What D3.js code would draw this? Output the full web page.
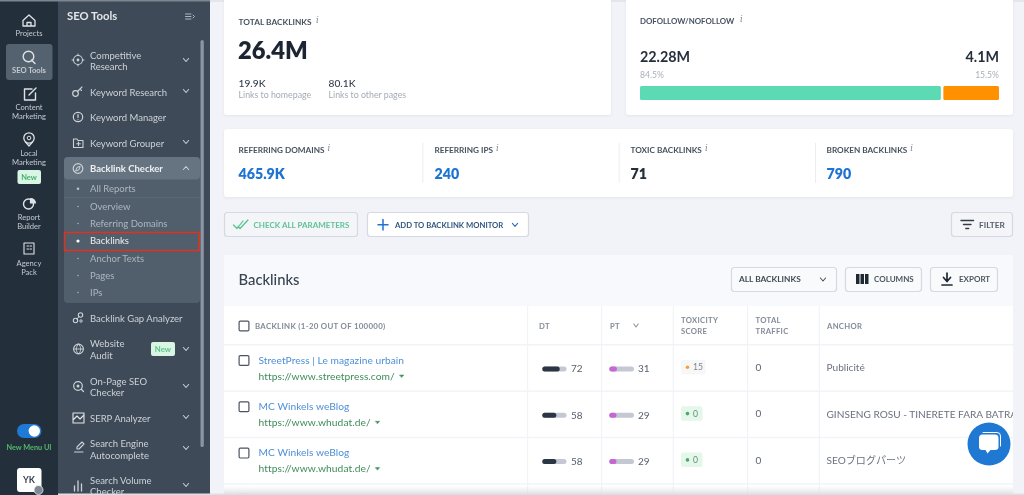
<!DOCTYPE html>
<html><head><meta charset="utf-8">
<script src="https://cdn.jsdelivr.net/npm/d3@7"></script>
<style>html,body{margin:0;padding:0;background:#f1f3f8;overflow:hidden}svg{display:block;filter:blur(.3px)}
text{font-family:Lato,"Noto Sans CJK JP",sans-serif}</style></head><body>
<svg id="c" width="1024" height="495" viewBox="0 0 1024 495"></svg>
<script>
const railLabels = [["Projects"],["SEO Tools"],["Content","Marketing"],["Local","Marketing"],["Report","Builder"],["Agency","Pack"]];
const toolItems = [["Competitive","Research"],["Keyword Research"],["Keyword Manager"],["Keyword Grouper"],["Backlink Checker"],["Backlink Gap Analyzer"],["Website","Audit"],["On-Page SEO","Checker"],["SERP Analyzer"],["Search Engine","Autocomplete"],["Search Volume","Checker"]];
const subItems = ["All Reports","Overview","Referring Domains","Backlinks","Anchor Texts","Pages","IPs"];
const followLabels = ["22.28M","4.1M"];
const followPct = [84.5,15.5];
const statLabels = ["REFERRING DOMAINS","REFERRING IPS","TOXIC BACKLINKS","BROKEN BACKLINKS"];
const statValues = ["465.9K","240","71","790"];
const columnHeads = [["BACKLINK (1-20 OUT OF 100000)"],["DT"],["PT"],["TOXICITY","SCORE"],["TOTAL","TRAFFIC"],["ANCHOR"]];
const rowTitles = ["StreetPress | Le magazine urbain","MC Winkels weBlog","MC Winkels weBlog"];
const rowUrls = ["https://www.streetpress.com/","https://www.whudat.de/","https://www.whudat.de/"];
const dtValues = [72,58,58];
const ptValues = [31,29,29];
const toxicity = [15,0,0];
const traffic = [0,0,0];
const anchors = ["Publicité","GINSENG ROSU - TINERETE FARA BATRANETE","SEOブログパーツ"];

const svg = d3.select("#c");
const defs = svg.append("defs");
defs.append("clipPath").attr("id","tbl").append("rect").attr("x",224).attr("y",250).attr("width",789).attr("height",245);
const sh = defs.append("filter").attr("id","sh").attr("x","-10%").attr("y","-20%").attr("width","120%").attr("height","140%");
sh.append("feDropShadow").attr("dx",0).attr("dy",1).attr("stdDeviation",1.5).attr("flood-color","#c5cbd6").attr("flood-opacity",.35);
const grad = defs.append("linearGradient").attr("id","fade").attr("x1",0).attr("x2",0).attr("y1",0).attr("y2",1);
grad.append("stop").attr("offset",0).attr("stop-color","#d9dce2").attr("stop-opacity",0);
grad.append("stop").attr("offset",1).attr("stop-color","#d9dce2").attr("stop-opacity",.9);

function R(x,y,w,h,fill,rx,stroke,g){const r=(g||svg).append("rect").attr("x",x).attr("y",y).attr("width",w).attr("height",h).attr("fill",fill).attr("rx",rx||0);if(stroke)r.attr("stroke",stroke).attr("stroke-width",1);return r;}
function T(x,y,s,size,fill,o){o=o||{};const t=(o.g||svg).append("text").attr("x",x).attr("y",y).attr("dy","0.35em").attr("font-size",size).attr("fill",fill).attr("font-weight",o.w||400).attr("text-anchor",o.a||"start").text(s);if(o.ls)t.attr("letter-spacing",o.ls);if(o.f)t.style("font-family",o.f);return t;}
function P(d,stroke,sw,fill){return svg.append("path").attr("d",d).attr("fill",fill||"none").attr("stroke",stroke||"none").attr("stroke-width",sw||1.2).attr("stroke-linecap","round").attr("stroke-linejoin","round");}
function C(x,y,r,fill,stroke,sw){return svg.append("circle").attr("cx",x).attr("cy",y).attr("r",r).attr("fill",fill||"none").attr("stroke",stroke||"none").attr("stroke-width",sw||1.2);}
function chev(x,y,c,up,s){s=s||3;P(up?`M${x-s},${y+1.5}L${x},${y-1.5}L${x+s},${y+1.5}`:`M${x-s},${y-1.5}L${x},${y+1.5}L${x+s},${y-1.5}`,c,1.1);}
function info(x,y){T(x,y,"i",8.5,"#7f8895",{f:"'DejaVu Serif',serif"}).attr("font-style","italic");}

/* page */
R(0,0,1024,495,"#f1f3f8");
R(0,0,1024,2,"#e4e6ea");

/* rail */
R(0,0,58,495,"#232f3b");
R(0,0,58,1.5,"#7c8590");
R(6,44,46.5,36,"#54626f",3);
const railC="#dfe3e7";
const railY=[[33],[70],[107,116],[153,162],[217,226],[263,272]];
railLabels.forEach((l,i)=>l.forEach((s,j)=>T(29,railY[i][j],s,7.6,"#c3cad1",{a:"middle",w:i==1?700:400})));
P("M23,20.5L29,15L35,20.5V26H23ZM27,26V22.5H31V26",railC,1.3);
C(28.5,56.5,5.3,"none",railC,1.4);P("M31.5,60L35,63.5",railC,1.4);
P("M32,89H24.5V100H35.5V93M29,95L36,88",railC,1.4);
C(29,138,5.2,"none",railC,1.3);C(29,138,1.8,"none",railC,1);P("M25.5,142L29,146L32.5,142",railC,1.2);
R(17.5,170,23.5,14,"#d9f5e3",2);T(29,177.3,"New",7.5,"#46b070",{a:"middle",w:700});
C(28.5,204,5,"none",railC,1.4);P("M30.5,198.5A5,5,0,0,1,35.5,203H30.5Z",railC,1.2,railC);
P("M24,254V243H34V254ZM27,246H28.5M30,246H31.5M27,249H28.5M30,249H31.5",railC,1.1);
R(17,424,24.5,14,"#1f7ad6",7);C(34.3,431,5.7,"#fff");
T(29,447,"New Menu UI",7.3,"#52b96b",{a:"middle",w:700});
R(17,468,24.5,24,"#fff",3);T(29,480,"YK",9,"#3a4452",{a:"middle",w:700});
C(38.5,490,4.5,"#7d8894","#fff",.7);

/* sidebar */
R(58,0,152,495,"#3e4a57");
R(58,0,152,1.5,"#7c8590");
T(67,16.5,"SEO Tools",11.3,"#e3e6ea",{w:700});
P("M185.5,14H191M185.5,16.5H191M185.5,19H191M193,15L194.5,16.5L193,18","#aeb6bf",1);
R(64,157,136,146,"#515e6b",4);
R(64,157,136,22.5,"#667380",4);
R(64,197,136,.7,"#5f6b78");
R(200.5,40,3.3,407,"#8b96a2",1.6);
const sc="#ccd2d8";
const toolY=[[55,66],[92],[117],[143],[168.7],[318],[343,355],[381,392],[418],[443,455],[480,491]];
const toolChev=[60,91,null,142,168,null,349,386,417,448,485];
toolItems.forEach((l,i)=>{l.forEach((s,j)=>T(90,toolY[i][j]+.3,s,9.5,i==4?"#eef0f2":"#ccd2d8",{w:i==4?700:400}));
 if(toolChev[i])chev(186,toolChev[i],"#c8ced5",i==4,2.6);});
const subY=[188.7,206.5,223.5,241,258.5,275.5,292.5];
subItems.forEach((s,i)=>{T(90,subY[i],s,9.5,i==3?"#eef0f2":"#aeb7c0");C(78,subY[i],i==3?1.6:(i==0?1.3:.7),i==3?"#fff":"#b9c1c9");});
R(64.5,232.5,134.5,18,"none",0).attr("stroke","#e2321e").attr("stroke-width",1.5);
/* sidebar icons */
C(78,60,4.5,"none",sc,1.1);C(78,60,1.4,sc);P("M78,54V55.5M78,64.5V66M72,60H73.5M82.5,60H84",sc,1);
C(75.5,93.5,2.8,"none",sc,1.2);P("M77.5,91.5L82,87M80,89L81.5,90.5",sc,1.1);
C(78,117,4.7,"none",sc,1.2);P("M78,114.5V117.5M78,119.5V119.6",sc,1.2);
P("M73.5,139H77L78,140.5H83V147.5H73.5ZM78.5,142V145.5M76.7,143.7H80.3",sc,1.1);
C(78,168.5,4.8,"none",sc,1.2);P("M75.8,170.7L77,167.5L80.2,166.3L79,169.5Z",sc,1);
C(75.5,320.5,2.2,"none",sc,1.1);C(80.5,315,2.2,"none",sc,1.1);C(81,321,1.2,"none",sc,1);P("M77,319L79,316.5",sc,1);
C(78.5,349,4.9,"none",sc,1.1);P("M73.6,349H83.4M78.5,344C75.5,347,75.5,351,78.5,354C81.5,351,81.5,347,78.5,344",sc,.9);
C(78,386,4.3,"none",sc,1.2);C(78,386,1.5,sc);P("M81.5,389.5L83.5,391.5",sc,1.2);
P("M73,423V413H84V423ZM73,420L77,416L80,419L84,415","#e3e6ea",1.1);
P("M77,447L82,442L84,444L79,449H77ZM74.5,452H83",sc,1.1);
P("M74.5,491V486M78,491V481M81.5,491V484",sc,1.3);
R(151,342,24,14,"#d9f5e3",2);T(163,349.5,"New",7.8,"#5cc58a",{a:"middle",w:700});

/* cards */
const card=(x,y,w,h)=>R(x,y,w,h,"#fff",3).attr("filter","url(#sh)");
card(224,-4,387,119);card(626,-4,387,119);card(224,129,789,68);

const lab="#47525f";
T(238.5,22,"TOTAL BACKLINKS",8.3,lab,{w:700});info(316,20);
T(238,51,"26.4M",23.7,"#1c2531",{w:800});
T(238.5,83,"19.9K",10.2,"#333d4a",{w:500});T(238.5,95,"Links to homepage",8.8,"#a3abb5");
T(328.5,83,"80.1K",10.2,"#333d4a",{w:500});T(328.5,95,"Links to other pages",8.8,"#a3abb5");

T(640,21,"DOFOLLOW/NOFOLLOW",7.85,lab,{w:700});info(740,19.5);
const fx=d3.scaleLinear().domain([0,100]).range([640,999]);
T(640,57,followLabels[0],14.3,"#252e3b",{w:700});
T(999,57,followLabels[1],14.3,"#252e3b",{w:700,a:"end"});
T(640,75,followPct[0]+"%",8.6,"#a9b0ba");T(999,75,followPct[1]+"%",8.6,"#a9b0ba",{a:"end"});
svg.selectAll(".fbar").data(followPct).join("rect").attr("class","fbar")
 .attr("x",(d,i)=>fx(i?followPct[0]:0)).attr("y",86).attr("height",14).attr("rx",1.5)
 .attr("width",(d,i)=>fx(d)-fx(0)-(i?0:2.5)).attr("fill",(d,i)=>i?"#ff9100":"#5cdab4");

const statX=[238.5,434.5,630.5,826.5];
statLabels.forEach((s,i)=>{const t=T(statX[i],150.5,s,8.2,lab,{w:700});
 info(statX[i]+t.node().getComputedTextLength()+3,148.5);
 T(statX[i],174,statValues[i],14.2,i==2?"#252e3b":"#1f73d2",{w:800});});
[422.5,618.7,815].forEach(x=>R(x,143,.8,40,"#e7e9ee"));

/* buttons */
const btn=(x,y,w,h,fill)=>R(x+.5,y+.5,w-1,h-1,fill||"#fff",3,"#d5d9e0").attr("stroke-width",1.2);
btn(224,212,134,25,"#f3f5f8");
P("M233.5,225L237,228.5L243,221M238,226.5L240,228.5L248,220","#55c08b",1.2);
T(253.5,225,"CHECK ALL PARAMETERS",8,"#62c196",{w:700});
btn(367,212,162,25);
P("M383,219.5V230M378,224.8H388","#1f73d2",1.5);
T(395,225,"ADD TO BACKLINK MONITOR",7.7,"#31557f",{w:700});chev(515,224.8,"#2f6cb5",false,2.6);
btn(951,212,62,25,"#f3f5f8");
P("M961,220.5H973.5M963.5,224.5H971M965.8,228.5H968.7","#333d4a",1.4);
T(979,225,"FILTER",8.3,"#555f6c",{w:700});

/* table */
R(224,255,789,240,"#fff");
R(224,255,789,51,"#f8f9fc");
T(238.5,279.5,"Backlinks",14.8,"#3a4452",{w:500});
btn(731,267,106,25,"#f9fafc");T(739,279.5,"ALL BACKLINKS",8.3,"#3f4956",{w:700});chev(823,279.5,"#4a5462",false,2.6);
btn(845,267,77,25,"#f9fafc");R(856,274,3.5,10,"#1f2833");R(860.5,274,3.5,10,"#1f2833");R(865,274,3.5,10,"#1f2833");T(874,279.5,"COLUMNS",8,"#4c5663",{w:700});
btn(930,267,68,25,"#f9fafc");P("M947,273V281M943.5,277.5L947,281.5L950.5,277.5M942,285H952","#1f2833",1.7);T(959,279.5,"EXPORT",8,"#4c5663",{w:700});

const tbl=svg.append("g").attr("clip-path","url(#tbl)");
const colX=[527,601,672.7,747,818.7];
colX.forEach(x=>R(x,306,1.2,189,"#f1f3f7",0,null,tbl));
const rowLine=d3.scaleLinear().domain([0,1]).range([344.5,390.9]);
[0,1,2,3].forEach(i=>R(224,rowLine(i)-.5,789,1.4,"#f1f3f7",0,null,tbl));

const headX=[255,539,610,681,755.5,827];
const hc="#828b97";
columnHeads.forEach((l,i)=>l.forEach((s,j)=>T(headX[i],l.length>1?320+j*11:326,s,i==0?7.85:7.7,hc,{w:700,ls:.3})));
chev(636,325.5,"#8a93a0",false,2.2);
const box=(x,y)=>R(x+.6,y+.6,9.8,9.8,"#fff",1.2,"#4a5361").attr("stroke-width",1.2);
box(238.5,320.5);

const ry=d3.scaleLinear().domain([0,1]).range([360,406.3]);
const dtX=d3.scaleLinear().domain([0,100]).range([542.3,566.5]);
const ptX=d3.scaleLinear().domain([0,100]).range([609.3,634]);
const rows=d3.range(rowTitles.length);
rows.forEach(i=>{
 const y=ry(i),m=y+9;
 box(238.5,y-5);
 T(258.5,y,rowTitles[i],10.2,"#4d8fd6",{ls:.05});
 const u=T(258.5,y+16,rowUrls[i],10.25,"#3f8c5a",{ls:.05});
 const ux=258.5+u.node().getComputedTextLength()+5;
 P(`M${ux},${y+15}h4l-2,2.3Z`,"#3f8c5a",.5,"#3f8c5a");
 T(571,m-.3,dtValues[i],10,"#55606d");
 T(638,m-.3,ptValues[i],10,"#55606d");
 const badgeW=toxicity[i]?24.5:21.5;
 R(681,y,badgeW,14.5,toxicity[i]?"#f7f7f8":"#e4f7ea",2);
 C(687.5,y+7.3,1.8,toxicity[i]?"#f6a13b":"#47a96c");
 T(693,y+7.3,toxicity[i],8.6,toxicity[i]?"#7d8691":"#5b8f70");
 T(755.5,m-1.5,traffic[i],10,"#5a6471");
 T(826.5,m-1.3,anchors[i],10.1,"#69727e",{g:tbl});
});
const barH=5;
svg.selectAll(".dtTrack").data(dtValues).join("rect").attr("class","dtTrack").attr("x",dtX(0)).attr("y",(d,i)=>ry(i)+9-barH/2).attr("width",dtX(100)-dtX(0)).attr("height",barH).attr("rx",2.5).attr("fill","#c3c8d2");
svg.selectAll(".dtBar").data(dtValues).join("rect").attr("class","dtBar").attr("x",dtX(0)).attr("y",(d,i)=>ry(i)+9-barH/2).attr("width",d=>dtX(d)-dtX(0)).attr("height",barH).attr("rx",2.5).attr("fill","#2b3645");
svg.selectAll(".ptTrack").data(ptValues).join("rect").attr("class","ptTrack").attr("x",ptX(0)).attr("y",(d,i)=>ry(i)+9-barH/2).attr("width",ptX(100)-ptX(0)).attr("height",barH).attr("rx",2.5).attr("fill","#c3c8d2");
svg.selectAll(".ptBar").data(ptValues).join("rect").attr("class","ptBar").attr("x",ptX(0)).attr("y",(d,i)=>ry(i)+9-barH/2).attr("width",d=>ptX(d)-ptX(0)).attr("height",barH).attr("rx",2.5).attr("fill","#c565d6");

R(238.5,493.5,10.5,2,"#b5bac3");
R(224,486,789,9,"url(#fade)");
R(58,493.5,966,1.5,"#dcdfe4");

/* chat */
C(989,444,21.5,"#1f79d2");
P("M979,438Q979,434.5,982.5,434.5H995Q998.5,434.5,998.5,438V447Q998.5,450,995,450H990.5L987.5,453.5L985.5,450H982.5Q979,450,979,447Z",null,1,"#fff");
P("M983,432.5H997Q1000.5,432.5,1000.5,436V446","#fff",1);
</script></body></html>
